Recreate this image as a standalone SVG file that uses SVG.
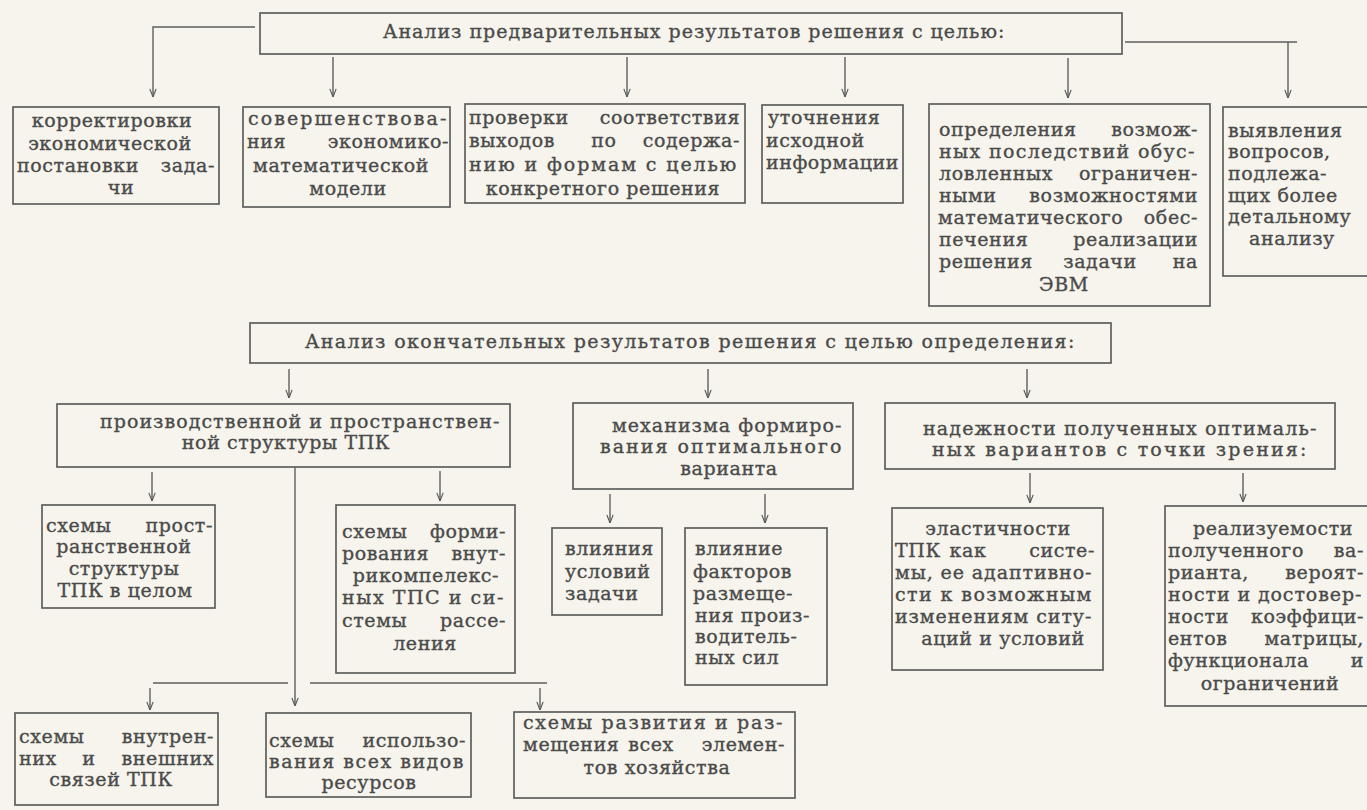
<svg xmlns="http://www.w3.org/2000/svg" width="1367" height="810" viewBox="0 0 1367 810">
<defs>
<marker id="ah" viewBox="0 0 10 10" refX="10" refY="5" markerUnits="userSpaceOnUse" markerWidth="9" markerHeight="9" orient="auto">
<path d="M1,1.5 L10,5 L1,8.5" fill="none" stroke="#5a5a5a" stroke-width="1.3"/>
</marker>
<style>
.bg{fill:#f6f4ec}
.box{fill:none;stroke:#5e5e5e;stroke-width:1.7}
.ln{fill:none;stroke:#5e5e5e;stroke-width:1.5}
.ar{fill:none;stroke:#5e5e5e;stroke-width:1.4;marker-end:url(#ah)}
text{font-family:"DejaVu Serif",serif;font-size:19px;fill:#4a4a4a;stroke:#4a4a4a;stroke-width:0.35px;letter-spacing:0.6px}
.m{text-anchor:middle}
.e{text-anchor:end}
</style>
</defs>
<rect class="bg" x="0" y="0" width="1367" height="810"/>

<g id="connectors">
<path class="ar" d="M255,27 H153 V97"/>
<path class="ln" d="M1125,42 H1297"/>
<path class="ar" d="M1288,42 V98"/>
<path class="ar" d="M333,57 V97"/>
<path class="ar" d="M627,57 V97"/>
<path class="ar" d="M845,57 V97"/>
<path class="ar" d="M1068,58 V98"/>
<path class="ar" d="M289,369 V398"/>
<path class="ar" d="M708,369 V398"/>
<path class="ar" d="M1027,369 V398"/>
<path class="ar" d="M152,472 V501"/>
<path class="ar" d="M440,471 V501"/>
<path class="ar" d="M295,467 V706"/>
<path class="ln" d="M153,683 H288"/>
<path class="ln" d="M310,683 H547"/>
<path class="ar" d="M150,688 V710"/>
<path class="ar" d="M540,688 V710"/>
<path class="ar" d="M610,494 V523"/>
<path class="ar" d="M765,494 V523"/>
<path class="ar" d="M1030,473 V503"/>
<path class="ar" d="M1243,473 V502"/>
</g>

<g id="top1">
<rect class="box" x="260" y="13" width="862" height="41"/>
<text x="383" y="38" textLength="622" lengthAdjust="spacing">Анализ предварительных результатов решения с целью:</text>
</g>

<g id="n1">
<rect class="box" x="13" y="107" width="206" height="97"/>
<text class="m" x="112" y="127">корректировки</text>
<text class="m" x="110" y="150">экономической</text>
<text x="17" y="172">постановки</text><text class="e" x="215" y="172">зада-</text>
<text class="m" x="121" y="194">чи</text>
</g>

<g id="n2">
<rect class="box" x="243" y="107" width="207" height="100"/>
<text x="248" y="125" textLength="199" lengthAdjust="spacing">совершенствова-</text>
<text x="247" y="148">ния</text><text class="e" x="449" y="148">экономико-</text>
<text class="m" x="341" y="172">математической</text>
<text class="m" x="348" y="195">модели</text>
</g>

<g id="n3">
<rect class="box" x="465" y="104" width="280" height="99"/>
<text x="469" y="124">проверки</text><text class="e" x="740" y="124">соответствия</text>
<text x="469" y="147">выходов</text><text class="m" x="604" y="147">по</text><text class="e" x="740" y="147">содержа-</text>
<text x="469" y="171" textLength="268" lengthAdjust="spacing">нию и формам с целью</text>
<text class="m" x="603" y="195">конкретного решения</text>
</g>

<g id="n4">
<rect class="box" x="762" y="105" width="141" height="98"/>
<text x="768" y="124">уточнения</text>
<text x="766" y="147">исходной</text>
<text x="766" y="169" textLength="133" lengthAdjust="spacing">информации</text>
</g>

<g id="n5">
<rect class="box" x="929" y="104" width="281" height="202"/>
<text x="939" y="136">определения</text><text class="e" x="1198" y="136">возмож-</text>
<text x="939" y="158" textLength="256" lengthAdjust="spacing">ных последствий обус-</text>
<text x="939" y="180">ловленных</text><text class="e" x="1198" y="180">ограничен-</text>
<text x="939" y="202">ными</text><text class="e" x="1198" y="202">возможностями</text>
<text x="938" y="224">математического</text><text class="e" x="1198" y="224">обес-</text>
<text x="939" y="246">печения</text><text class="e" x="1198" y="246">реализации</text>
<text x="939" y="268">решения</text><text class="m" x="1100" y="268">задачи</text><text class="e" x="1198" y="268">на</text>
<text class="m" x="1064" y="291">ЭВМ</text>
</g>

<g id="n6">
<rect class="box" x="1223" y="107" width="160" height="169"/>
<text x="1228" y="137">выявления</text>
<text x="1228" y="158">вопросов,</text>
<text x="1228" y="180">подлежа-</text>
<text x="1228" y="202">щих более</text>
<text x="1228" y="223">детальному</text>
<text class="m" x="1292" y="245">анализу</text>
</g>

<g id="top2">
<rect class="box" x="250" y="323" width="861" height="40"/>
<text x="305" y="348" textLength="770" lengthAdjust="spacing">Анализ окончательных результатов решения с целью определения:</text>
</g>

<g id="a">
<rect class="box" x="57" y="404" width="453" height="63"/>
<text x="100" y="428" textLength="400" lengthAdjust="spacing">производственной и пространствен-</text>
<text class="m" x="286" y="449">ной структуры ТПК</text>
</g>

<g id="b">
<rect class="box" x="573" y="403" width="280" height="86"/>
<text x="612" y="432" textLength="230" lengthAdjust="spacing">механизма формиро-</text>
<text x="600" y="453" textLength="242" lengthAdjust="spacing">вания оптимального</text>
<text class="m" x="729" y="475">варианта</text>
</g>

<g id="c">
<rect class="box" x="885" y="403" width="450" height="66"/>
<text x="923" y="435" textLength="394" lengthAdjust="spacing">надежности полученных оптималь-</text>
<text x="932" y="456" textLength="375" lengthAdjust="spacing">ных вариантов с точки зрения:</text>
</g>

<g id="p1">
<rect class="box" x="42" y="505" width="173" height="103"/>
<text x="46" y="532">схемы</text><text class="e" x="213" y="532">прост-</text>
<text class="m" x="124" y="553">ранственной</text>
<text class="m" x="124" y="575">структуры</text>
<text class="m" x="125" y="597">ТПК в целом</text>
</g>

<g id="p2">
<rect class="box" x="336" y="505" width="179" height="168"/>
<text x="342" y="538">схемы</text><text class="e" x="506" y="538">форми-</text>
<text x="342" y="560">рования</text><text class="e" x="506" y="560">внут-</text>
<text class="m" x="426" y="582">рикомпелекс-</text>
<text x="342" y="604" textLength="162" lengthAdjust="spacing">ных ТПС и си-</text>
<text x="342" y="627">стемы</text><text class="e" x="506" y="627">рассе-</text>
<text class="m" x="425" y="650">ления</text>
</g>

<g id="p3">
<rect class="box" x="15" y="713" width="203" height="92"/>
<text x="19" y="743">схемы</text><text class="e" x="214" y="743">внутрен-</text>
<text x="19" y="765">них</text><text class="m" x="89" y="765">и</text><text class="e" x="214" y="765">внешних</text>
<text class="m" x="111" y="786">связей ТПК</text>
</g>

<g id="p4">
<rect class="box" x="266" y="713" width="205" height="84"/>
<text x="269" y="747">схемы</text><text class="e" x="466" y="747">использо-</text>
<text x="269" y="768" textLength="195" lengthAdjust="spacing">вания всех видов</text>
<text class="m" x="369" y="789">ресурсов</text>
</g>

<g id="p5">
<rect class="box" x="514" y="712" width="281" height="86"/>
<text x="523" y="729" textLength="260" lengthAdjust="spacing">схемы развития и раз-</text>
<text x="523" y="751">мещения</text><text class="m" x="651" y="751">всех</text><text class="e" x="785" y="751">элемен-</text>
<text class="m" x="657" y="774">тов хозяйства</text>
</g>

<g id="q1">
<rect class="box" x="552" y="528" width="110" height="87"/>
<text x="565" y="555">влияния</text>
<text x="565" y="578">условий</text>
<text x="565" y="600">задачи</text>
</g>

<g id="q2">
<rect class="box" x="685" y="528" width="142" height="157"/>
<text x="695" y="555">влияние</text>
<text x="693" y="578">факторов</text>
<text x="693" y="600">размеще-</text>
<text x="695" y="622">ния произ-</text>
<text x="695" y="643">водитель-</text>
<text x="695" y="664">ных сил</text>
</g>

<g id="r1">
<rect class="box" x="892" y="508" width="211" height="162"/>
<text class="m" x="998" y="535">эластичности</text>
<text x="895" y="557">ТПК</text><text class="m" x="968" y="557">как</text><text class="e" x="1095" y="557">систе-</text>
<text x="895" y="579" textLength="197" lengthAdjust="spacing">мы, ее адаптивно-</text>
<text x="895" y="601" textLength="197" lengthAdjust="spacing">сти к возможным</text>
<text x="895" y="623" textLength="197" lengthAdjust="spacing">изменениям ситу-</text>
<text class="m" x="1003" y="645">аций и условий</text>
</g>

<g id="r2">
<rect class="box" x="1165" y="506" width="220" height="200"/>
<text class="m" x="1273" y="535">реализуемости</text>
<text x="1168" y="557">полученного</text><text class="e" x="1364" y="557">ва-</text>
<text x="1168" y="579">рианта,</text><text class="e" x="1364" y="579">вероят-</text>
<text x="1168" y="601" textLength="194" lengthAdjust="spacing">ности и достовер-</text>
<text x="1168" y="623">ности</text><text class="e" x="1364" y="623">коэффици-</text>
<text x="1168" y="645">ентов</text><text class="e" x="1364" y="645">матрицы,</text>
<text x="1168" y="667">функционала</text><text class="e" x="1364" y="667">и</text>
<text class="m" x="1270" y="690">ограничений</text>
</g>
</svg>
